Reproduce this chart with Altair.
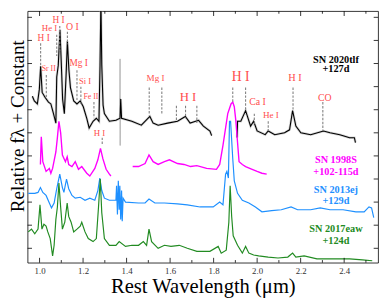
import altair as alt
import pandas as pd

# ---- SN 2020tlf (+127d), two segments (gap in telluric band) ----
tlf_a_wave = [0.967, 0.976, 0.990, 0.999, 1.005, 1.012, 1.025, 1.041, 1.052, 1.064, 1.075, 1.079, 1.086,
              1.094, 1.102, 1.106, 1.114, 1.122, 1.128, 1.135, 1.142, 1.157, 1.172, 1.187, 1.201, 1.217,
              1.228, 1.246, 1.261, 1.273, 1.278, 1.282, 1.286, 1.292, 1.298, 1.321, 1.351, 1.370, 1.373,
              1.377, 1.424, 1.468, 1.507, 1.522, 1.545, 1.589, 1.634, 1.670, 1.692, 1.731, 1.753, 1.783, 1.791]
tlf_a_flux = [6.58, 6.38, 6.25, 6.88, 7.88, 6.75, 6.54, 6.33, 6.25, 5.83, 5.42, 7.42, 7.92,
              9.46, 7.5, 6.46, 5.83, 7.5, 8.96, 7.71, 6.96, 6.38, 6.25, 6.38, 6.13, 5.63,
              5.21, 5.5, 5.63, 5.5, 7.92, 10.8, 7.92, 6.2, 5.83, 5.5, 5.54, 5.63, 6.46,
              5.63, 5.5, 5.33, 5.71, 5.42, 5.33, 5.42, 5.5, 5.71, 5.42, 5.54, 5.29, 5.08, 4.88]
tlf_b_wave = [1.908, 1.910, 1.925, 1.947, 1.970, 1.984, 2.000, 2.037, 2.051, 2.081, 2.126, 2.149, 2.163,
              2.178, 2.201, 2.246, 2.305, 2.335, 2.380, 2.425, 2.447, 2.452]
tlf_b_flux = [4.8, 5.5, 5.5, 5.96, 5.29, 5.5, 5.08, 4.92, 5.08, 4.92, 5.0, 5.13, 5.96,
              5.29, 5.0, 4.92, 5.08, 5.0, 4.92, 4.79, 4.79, 4.58]
# telluric spike seen in the grey (unsmoothed) spectrum
tlf_noise_wave = [1.369, 1.3700, 1.3705, 1.3712, 1.372]
tlf_noise_flux = [5.6, 8.2, 4.45, 6.5, 5.6]

# ---- SN 1998S (+102-115d) ----
s98_a_wave = [1.004, 1.008, 1.015, 1.030, 1.045, 1.052, 1.060, 1.075, 1.082, 1.089, 1.097, 1.105, 1.119,
              1.127, 1.134, 1.149, 1.164, 1.179, 1.194, 1.217, 1.231, 1.254, 1.268, 1.280, 1.291, 1.306,
              1.321, 1.328]
s98_a_flux = [3.63, 4.83, 3.75, 3.33, 3.46, 3.25, 3.46, 4.17, 4.79, 5.5, 5.0, 4.04, 3.75,
              3.96, 3.63, 3.54, 3.75, 3.42, 3.54, 3.25, 3.13, 3.46, 3.83, 4.33, 3.88, 3.42,
              3.21, 3.13]
s98_b_wave = [1.428, 1.455, 1.485, 1.503, 1.522, 1.545, 1.574, 1.597, 1.634, 1.664, 1.694, 1.723, 1.768,
              1.813, 1.828, 1.843, 1.865, 1.880, 1.888, 1.895, 1.902, 1.910, 1.917, 1.932, 1.947, 1.977,
              2.000, 2.022, 2.044]
s98_b_flux = [3.54, 3.54, 3.67, 4.04, 3.75, 3.63, 3.75, 3.83, 3.67, 3.63, 3.54, 3.58, 3.46,
              3.42, 3.63, 4.46, 5.83, 6.25, 6.33, 6.13, 5.54, 4.58, 3.75, 3.63, 3.54, 3.42,
              3.33, 3.25, 3.21]

# ---- SN 2013ej (+129d) ----
ej_wave = [0.948, 0.978, 0.993, 1.004, 1.015, 1.030, 1.045, 1.055, 1.067, 1.079, 1.093, 1.105, 1.112,
           1.124, 1.134, 1.149, 1.164, 1.187, 1.209, 1.231, 1.254, 1.268, 1.277, 1.286, 1.298, 1.321,
           1.343, 1.351, 1.354, 1.358, 1.362, 1.366, 1.369, 1.373, 1.377, 1.380, 1.384, 1.395, 1.455,
           1.485, 1.503, 1.530, 1.574, 1.634, 1.679, 1.738, 1.798, 1.828, 1.843, 1.855, 1.861, 1.868,
           1.873, 1.878, 1.888, 1.895, 1.910, 1.932, 1.962, 1.992, 2.022, 2.067, 2.111, 2.156, 2.186,
           2.246, 2.290, 2.335, 2.395, 2.454, 2.492, 2.514, 2.526, 2.536]
ej_flux = [2.38, 2.38, 2.42, 2.63, 2.42, 2.29, 1.96, 1.75, 1.96, 2.58, 3.21, 2.63, 2.42,
           3.0, 2.58, 2.29, 2.17, 2.21, 2.08, 2.17, 2.08, 2.5, 3.04, 2.5, 2.17, 2.08,
           2.08, 2.08, 2.71, 1.46, 2.92, 1.67, 2.71, 1.25, 2.5, 1.17, 2.17, 2.0, 1.96,
           1.96, 2.13, 1.96, 1.96, 1.92, 1.88, 1.79, 1.79, 2.0, 1.88, 3.21, 3.33, 3.04,
           5.5, 5.5, 3.88, 2.92, 2.38, 2.08, 1.96, 1.79, 1.58, 1.63, 1.67, 1.79, 1.67,
           1.67, 1.75, 1.67, 1.67, 1.58, 1.58, 1.79, 1.75, 1.33]

# ---- SN 2017eaw (+124d) ----
ew_wave = [0.948, 0.963, 0.978, 0.993, 1.002, 1.011, 1.020, 1.030, 1.038, 1.049, 1.060, 1.067, 1.075,
           1.082, 1.089, 1.097, 1.105, 1.116, 1.127, 1.134, 1.145, 1.157, 1.172, 1.187, 1.194, 1.209,
           1.224, 1.246, 1.261, 1.271, 1.279, 1.286, 1.298, 1.321, 1.351, 1.366, 1.395, 1.425, 1.455,
           1.477, 1.492, 1.503, 1.515, 1.545, 1.574, 1.604, 1.642, 1.679, 1.723, 1.783, 1.821, 1.835,
           1.858, 1.870, 1.876, 1.883, 1.890, 1.910, 1.932, 1.947, 1.962, 1.984, 2.007, 2.051, 2.096,
           2.141, 2.163, 2.178, 2.216, 2.275, 2.350, 2.425, 2.484, 2.529]
ew_flux = [0.71, 0.83, 0.63, 0.83, 1.88, 0.83, 1.04, 0.96, 0.71, 0.42, -0.33, 0.13, 1.25,
           1.79, 2.83, 1.79, 0.83, 1.13, 1.96, 1.38, 1.13, 0.71, 0.83, 0.96, 1.13, 0.71,
           0.42, 0.29, 0.42, 1.79, 3.0, 1.54, 0.42, 0.13, 0.13, 0.29, 0.08, 0.13, 0.13,
           0.29, 0.13, 0.83, 0.29, 0.0, 0.13, 0.08, 0.13, 0.0, -0.13, -0.13, 0.08, -0.21,
           -0.08, 1.13, 2.71, 1.38, 0.54, 0.13, -0.21, 0.08, -0.21, -0.29, -0.33, -0.38, -0.42,
           -0.38, -0.21, -0.38, -0.33, -0.46, -0.46, -0.46, -0.5, -0.54]

# ---- line identifications ----
line_wave = [1.005, 1.031, 1.079, 1.093, 1.128, 1.172, 1.190, 1.250, 1.288, 1.504, 1.562, 1.629, 1.671,
             1.723, 1.888, 1.947, 1.987, 2.051, 2.165, 2.302]
line_top = [8.88, 7.5, 9.25, 9.63, 9.38, 7.71, 7.0, 6.33, 4.79, 6.96, 6.96, 6.17, 6.17,
            6.17, 6.96, 6.96, 5.83, 5.5, 6.96, 6.33]
line_bottom = [7.92, 6.54, 8.33, 8.54, 8.83, 6.38, 6.25, 5.63, 4.46, 5.75, 5.83, 5.5, 5.63,
               5.42, 6.33, 5.96, 5.29, 5.08, 5.96, 5.08]

label_text = ["H I", "He I", "H I", "O I", "Sr II", "Mg I", "Si I", "Fe II", "H I", "Mg I", "H I",
              "H I", "Ca I", "He I", "H I", "CO"]
label_wave = [1.019, 1.046, 1.087, 1.151, 1.042, 1.180, 1.209, 1.236, 1.275, 1.533, 1.682,
              1.924, 2.002, 2.063, 2.174, 2.311]
label_flux = [9.1, 9.55, 9.9, 9.58, 7.75, 8.04, 7.25, 6.54, 5.0, 7.38, 6.54,
              7.42, 6.33, 5.75, 7.38, 6.5]
label_size = [9.5, 9, 9.5, 10, 8, 9.5, 8.7, 8, 9, 9.3, 13, 14, 10, 9.3, 10.5, 10]

# ---- legend text ----
sn_names = ["SN 2020tlf", "SN 1998S", "SN 2013ej", "SN 2017eaw"]
sn_phase = ["+127d", "+102-115d", "+129d", "+124d"]
sn_colors = ["#000000", "#ff00ff", "#1e90ff", "#228b22"]
name_flux = [8.17, 3.83, 2.5, 0.83]
phase_flux = [7.75, 3.29, 2.04, 0.33]
legend_wave = 2.362

# ---- ticks ----
xtick_major = [1.0, 1.2, 1.4, 1.6, 1.8, 2.0, 2.2, 2.4]
xtick_minor = [1.1, 1.3, 1.5, 1.7, 1.9, 2.1, 2.3, 2.5]
ytick = [0, 1, 2, 3, 4, 5, 6, 7, 8, 9, 10]

W, H = 358, 257
SERIF = "Liberation Serif"
XS = alt.Scale(domain=[0.945, 2.556], nice=False, zero=False)
YS = alt.Scale(domain=[-0.625, 10.27], nice=False, zero=False)
XA = alt.Axis(values=xtick_major, format=".1f", labelFont=SERIF, labelFontSize=9, labelColor="#333333",
              labelPadding=4, ticks=False, domain=False, grid=False, title="Rest Wavelength (μm)",
              titleFont=SERIF, titleFontSize=21, titleFontWeight="normal", titleColor="black",
              titlePadding=0)
YA = alt.Axis(labels=False, ticks=False, domain=False, grid=False, title="Relative fλ + Constant",
              titleFont=SERIF, titleFontSize=19.5, titleFontWeight="normal", titleColor="black",
              titlePadding=0, titleY=117)


def xenc(f):
    return alt.X(f"{f}:Q", scale=XS, axis=XA)


def yenc(f):
    return alt.Y(f"{f}:Q", scale=YS, axis=YA)


def frame(*segments):
    rows = []
    for s, (w, f) in enumerate(segments):
        for k, (a, b) in enumerate(zip(w, f, strict=True)):
            rows.append({"wave": a, "flux": b, "seg": s, "i": k})
    return pd.DataFrame(rows)


def spectrum(df, color, width, opacity=1.0):
    return alt.Chart(df).mark_line(color=color, strokeWidth=width, opacity=opacity, clip=True).encode(
        x=xenc("wave"), y=yenc("flux"), detail="seg:N", order="i:Q")


tlf_df = frame((tlf_a_wave, tlf_a_flux), (tlf_b_wave, tlf_b_flux))
noise_df = frame((tlf_noise_wave, tlf_noise_flux))
s98_df = frame((s98_a_wave, s98_a_flux), (s98_b_wave, s98_b_flux))
ej_df = frame((ej_wave, ej_flux))
ew_df = frame((ew_wave, ew_flux))

layers = [
    spectrum(tlf_df, "#b0b0b0", 2.6, 0.55),
    spectrum(noise_df, "#b0b0b0", 0.9),
    spectrum(tlf_df, "#000000", 1.1),
    spectrum(s98_df, "#ff00ff", 1.4),
    spectrum(ej_df, "#1e90ff", 1.2),
    spectrum(ew_df, "#228b22", 1.2),
]

lines_df = pd.DataFrame({"wave": line_wave, "top": line_top, "bottom": line_bottom})
layers.append(alt.Chart(lines_df).mark_rule(color="#808080", strokeWidth=1.1, strokeDash=[2.5, 1.5]).encode(
    x=xenc("wave"), y=yenc("top"), y2="bottom:Q"))

labels_df = pd.DataFrame({"wave": label_wave, "flux": label_flux, "label": label_text, "fs": label_size})
layers.append(alt.Chart(labels_df).mark_text(font=SERIF, color="#ff4d4d", align="center", baseline="middle").encode(
    x=xenc("wave"), y=yenc("flux"), text="label:N", size=alt.Size("fs:Q", scale=None)))

leg_df = pd.DataFrame({
    "wave": [legend_wave] * 8,
    "flux": name_flux + phase_flux,
    "txt": sn_names + sn_phase,
    "col": sn_colors + sn_colors,
})
layers.append(alt.Chart(leg_df).mark_text(font=SERIF, fontWeight="bold", fontSize=10.5, align="center",
                                          baseline="middle").encode(
    x=xenc("wave"), y=yenc("flux"), text="txt:N", color=alt.Color("col:N", scale=None)))

xmaj = pd.DataFrame({"t": xtick_major})
xmin = pd.DataFrame({"t": xtick_minor})
ydf = pd.DataFrame({"t": ytick})
tick = dict(color="black", strokeWidth=0.8)
layers += [
    alt.Chart(xmaj).mark_rule(**tick).encode(x=xenc("t"), y=alt.value(H), y2=alt.value(H - 5)),
    alt.Chart(xmaj).mark_rule(**tick).encode(x=xenc("t"), y=alt.value(0), y2=alt.value(5)),
    alt.Chart(xmin).mark_rule(**tick).encode(x=xenc("t"), y=alt.value(H), y2=alt.value(H - 2.7)),
    alt.Chart(xmin).mark_rule(**tick).encode(x=xenc("t"), y=alt.value(0), y2=alt.value(2.7)),
    alt.Chart(ydf).mark_rule(**tick).encode(y=yenc("t"), x=alt.value(0), x2=alt.value(4.5)),
    alt.Chart(ydf).mark_rule(**tick).encode(y=yenc("t"), x=alt.value(W), x2=alt.value(W - 4.5)),
]

chart = alt.layer(*layers).properties(
    width=W, height=H,
    autosize=alt.AutoSizeParams(type="none"),
    padding={"left": 20, "top": 0, "right": 5, "bottom": 40},
    background="white",
).configure_view(stroke="black", strokeWidth=0.8)

chart.save("out.html", embed_options={"renderer": "svg", "actions": False})
